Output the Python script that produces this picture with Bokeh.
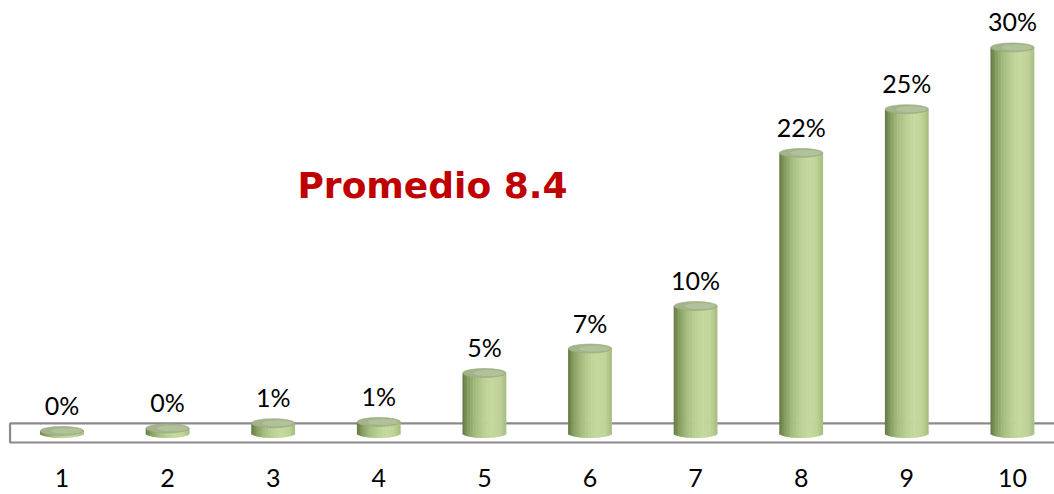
import numpy as np
from bokeh.plotting import figure
from bokeh.models import Range1d, FixedTicker, BoxAnnotation, Label, LabelSet, ColumnDataSource
from bokeh.core.properties import value
from bokeh.embed import file_html
from bokeh.resources import INLINE

# ---- data ----
cats = [1, 2, 3, 4, 5, 6, 7, 8, 9, 10]
values = [0.2, 0.4, 0.8, 0.9, 4.7, 6.6, 9.9, 21.8, 25.2, 30.0]
value_labels = ["0%", "0%", "1%", "1%", "5%", "7%", "10%", "22%", "25%", "30%"]
tick_labels = ["1", "2", "3", "4", "5", "6", "7", "8", "9", "10"]
title_text = "Promedio 8.4"

# ---- figure ----
p = figure(width=1054, height=494, output_backend="svg", toolbar_location=None,
           x_range=Range1d(0.41761, 10.39867), y_range=Range1d(-1.321, 33.644),
           min_border=0, min_border_bottom=44)
p.outline_line_color = None
p.grid.visible = False
p.yaxis.visible = False
p.background_fill_color = "white"

xa = p.xaxis[0]
xa.ticker = FixedTicker(ticks=cats)
xa.major_label_overrides = {c: t for c, t in zip(cats, tick_labels)}
xa.axis_line_color = None
xa.major_tick_line_color = None
xa.minor_tick_line_color = None
xa.major_label_standoff = 12
xa.major_label_text_font = "Lato"
xa.major_label_text_font_size = "25px"
xa.major_label_text_color = "#000000"

# floor
floor = BoxAnnotation(left=0.508, right=11.5, bottom=-0.70, top=0.78,
                      fill_color="white", fill_alpha=1.0,
                      line_color="#8a8a8a", line_alpha=1.0, line_width=2.2,
                      level="underlay")
p.add_layout(floor)

# cylinders drawn as vertical gradient stripes
W = 0.41
N = 28
px_per_unit = 12.87
e = 4.5 / px_per_unit
t = np.linspace(-1 + 1.0 / N, 1 - 1.0 / N, N)
stops_t = [-1.0, -0.75, -0.4, 0.0, 0.35, 0.7, 1.0]
stops_c = [(0x62, 0x78, 0x42), (0x86, 0x9d, 0x60), (0xa6, 0xbd, 0x80),
           (0xbc, 0xd1, 0x95), (0xc5, 0xd9, 0x9f), (0xc0, 0xd4, 0x99),
           (0xa8, 0xbe, 0x80)]
def grad(tv):
    r = np.interp(tv, stops_t, [c[0] for c in stops_c])
    g = np.interp(tv, stops_t, [c[1] for c in stops_c])
    b = np.interp(tv, stops_t, [c[2] for c in stops_c])
    return "#%02x%02x%02x" % (int(r), int(g), int(b))
stripe_colors = [grad(tv) for tv in t]

sx, stop, sbot, scol = [], [], [], []
for c, v in zip(cats, values):
    for tv, col in zip(t, stripe_colors):
        sx.append(c + tv * W / 2)
        stop.append(v)
        sbot.append(-e * np.sqrt(max(0.0, 1 - tv * tv)))
        scol.append(col)
p.vbar(x=sx, width=W / N * 1.35, top=stop, bottom=sbot,
       fill_color=scol, line_color=None)

# top caps
p.ellipse(x=cats, y=values, width=W, height=9, height_units="screen",
          fill_color="#a3b48a", line_color="#99aa80", line_width=0.6)
p.ellipse(x=[c + 0.04 for c in cats], y=values, width=W * 0.7, height=6,
          height_units="screen", fill_color="#b6c69e", fill_alpha=0.75, line_color=None)

# value labels
src = ColumnDataSource(dict(x=cats, y=values, text=value_labels))
p.add_layout(LabelSet(x="x", y="y", text="text", source=src, y_offset=16,
                      text_align="center", text_baseline="alphabetic",
                      text_font=value("Lato"), text_font_size=value("25px"),
                      text_color="#000000"))

# title
p.add_layout(Label(x=3.230, y=19.27, text=title_text, text_align="left",
                   text_baseline="alphabetic", text_font="DejaVu Sans",
                   text_font_style="bold", text_font_size="36px", text_color="#C00000"))

open("out.html", "w").write(file_html(p, INLINE))
